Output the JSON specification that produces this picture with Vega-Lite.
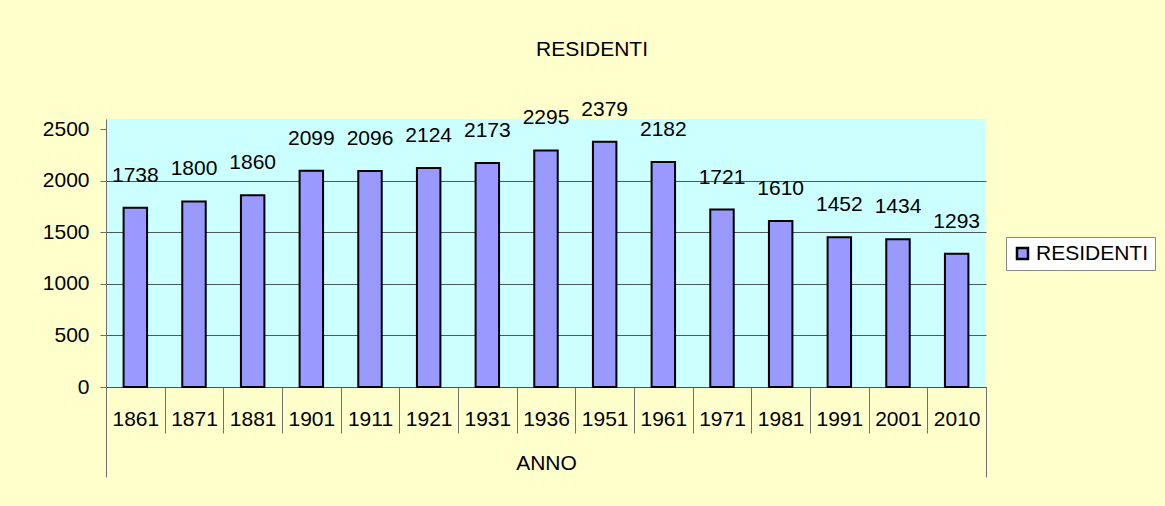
{
  "$schema": "https://vega.github.io/schema/vega-lite/v6.json",
  "width": 880,
  "height": 268,
  "autosize": {"type": "none"},
  "padding": {"left": 106, "top": 119, "right": 179, "bottom": 119},
  "background": "#FFFFCC",
  "title": {
    "text": "RESIDENTI",
    "anchor": "middle",
    "dx": 46,
    "offset": 39,
    "fontSize": 21,
    "font": "Liberation Sans",
    "fontWeight": "normal",
    "color": "#000000"
  },
  "data": {
    "values": [
      {"ANNO": "1861", "RESIDENTI": 1738, "serie": "RESIDENTI"},
      {"ANNO": "1871", "RESIDENTI": 1800, "serie": "RESIDENTI"},
      {"ANNO": "1881", "RESIDENTI": 1860, "serie": "RESIDENTI"},
      {"ANNO": "1901", "RESIDENTI": 2099, "serie": "RESIDENTI"},
      {"ANNO": "1911", "RESIDENTI": 2096, "serie": "RESIDENTI"},
      {"ANNO": "1921", "RESIDENTI": 2124, "serie": "RESIDENTI"},
      {"ANNO": "1931", "RESIDENTI": 2173, "serie": "RESIDENTI"},
      {"ANNO": "1936", "RESIDENTI": 2295, "serie": "RESIDENTI"},
      {"ANNO": "1951", "RESIDENTI": 2379, "serie": "RESIDENTI"},
      {"ANNO": "1961", "RESIDENTI": 2182, "serie": "RESIDENTI"},
      {"ANNO": "1971", "RESIDENTI": 1721, "serie": "RESIDENTI"},
      {"ANNO": "1981", "RESIDENTI": 1610, "serie": "RESIDENTI"},
      {"ANNO": "1991", "RESIDENTI": 1452, "serie": "RESIDENTI"},
      {"ANNO": "2001", "RESIDENTI": 1434, "serie": "RESIDENTI"},
      {"ANNO": "2010", "RESIDENTI": 1293, "serie": "RESIDENTI"}
    ]
  },
  "encoding": {
    "x": {
      "field": "ANNO",
      "type": "ordinal",
      "sort": null,
      "scale": {"paddingInner": 0, "paddingOuter": 0},
      "axis": {
        "title": "ANNO",
        "titleFontSize": 21,
        "titleFont": "Liberation Sans",
        "titleFontWeight": "normal",
        "titleColor": "#000000",
        "titlePadding": -25,
        "labelAngle": 0,
        "labelFontSize": 21,
        "labelFont": "Liberation Sans",
        "labelColor": "#000000",
        "labelBaseline": "middle",
        "labelPadding": {"condition": {"test": "datum.index >= 1", "value": -58}, "value": -14},
        "tickBand": "extent",
        "tickColor": "#707070",
        "tickWidth": 1,
        "tickSize": {"condition": {"test": "datum.index < 0 || datum.index >= 1", "value": 90}, "value": 46},
        "domainColor": "#505050",
        "domainWidth": 1
      }
    }
  },
  "layer": [
    {
      "mark": {"type": "bar", "stroke": "#000000", "strokeWidth": 2, "width": {"band": 0.4}},
      "encoding": {
        "y": {
          "field": "RESIDENTI",
          "type": "quantitative",
          "scale": {"domain": [0, 2500]},
          "axis": {
            "title": null,
            "values": [0, 500, 1000, 1500, 2000, 2500],
            "format": "d",
            "grid": true,
            "gridColor": {"condition": {"test": "datum.value >= 2500", "value": "transparent"}, "value": "#4a5a5a"},
            "gridWidth": 1,
            "tickSize": 6,
            "tickColor": "#707070",
            "domainColor": "#707070",
            "labelFontSize": 21,
            "labelFont": "Liberation Sans",
            "labelColor": "#000000",
            "labelPadding": 11
          }
        },
        "color": {
          "field": "serie",
          "type": "nominal",
          "scale": {"range": ["#9999FF"]},
          "legend": {
            "orient": "none",
            "legendX": 900,
            "legendY": 118,
            "title": null,
            "fillColor": "#FFFFFF",
            "strokeColor": "#888888",
            "padding": 6,
            "symbolType": "square",
            "symbolSize": 121,
            "symbolStrokeColor": "#000000",
            "symbolStrokeWidth": 2.5,
            "labelFontSize": 21,
            "labelFont": "Liberation Sans",
            "labelColor": "#000000",
            "labelOffset": 3
          }
        }
      }
    },
    {
      "mark": {"type": "text", "dy": -26, "baseline": "alphabetic", "fontSize": 21, "font": "Liberation Sans", "color": "#000000"},
      "encoding": {
        "y": {"field": "RESIDENTI", "type": "quantitative"},
        "text": {"field": "RESIDENTI", "type": "quantitative", "format": "d"}
      }
    }
  ],
  "config": {
    "font": "Liberation Sans",
    "view": {"fill": "#CCFFFF", "stroke": null}
  }
}
